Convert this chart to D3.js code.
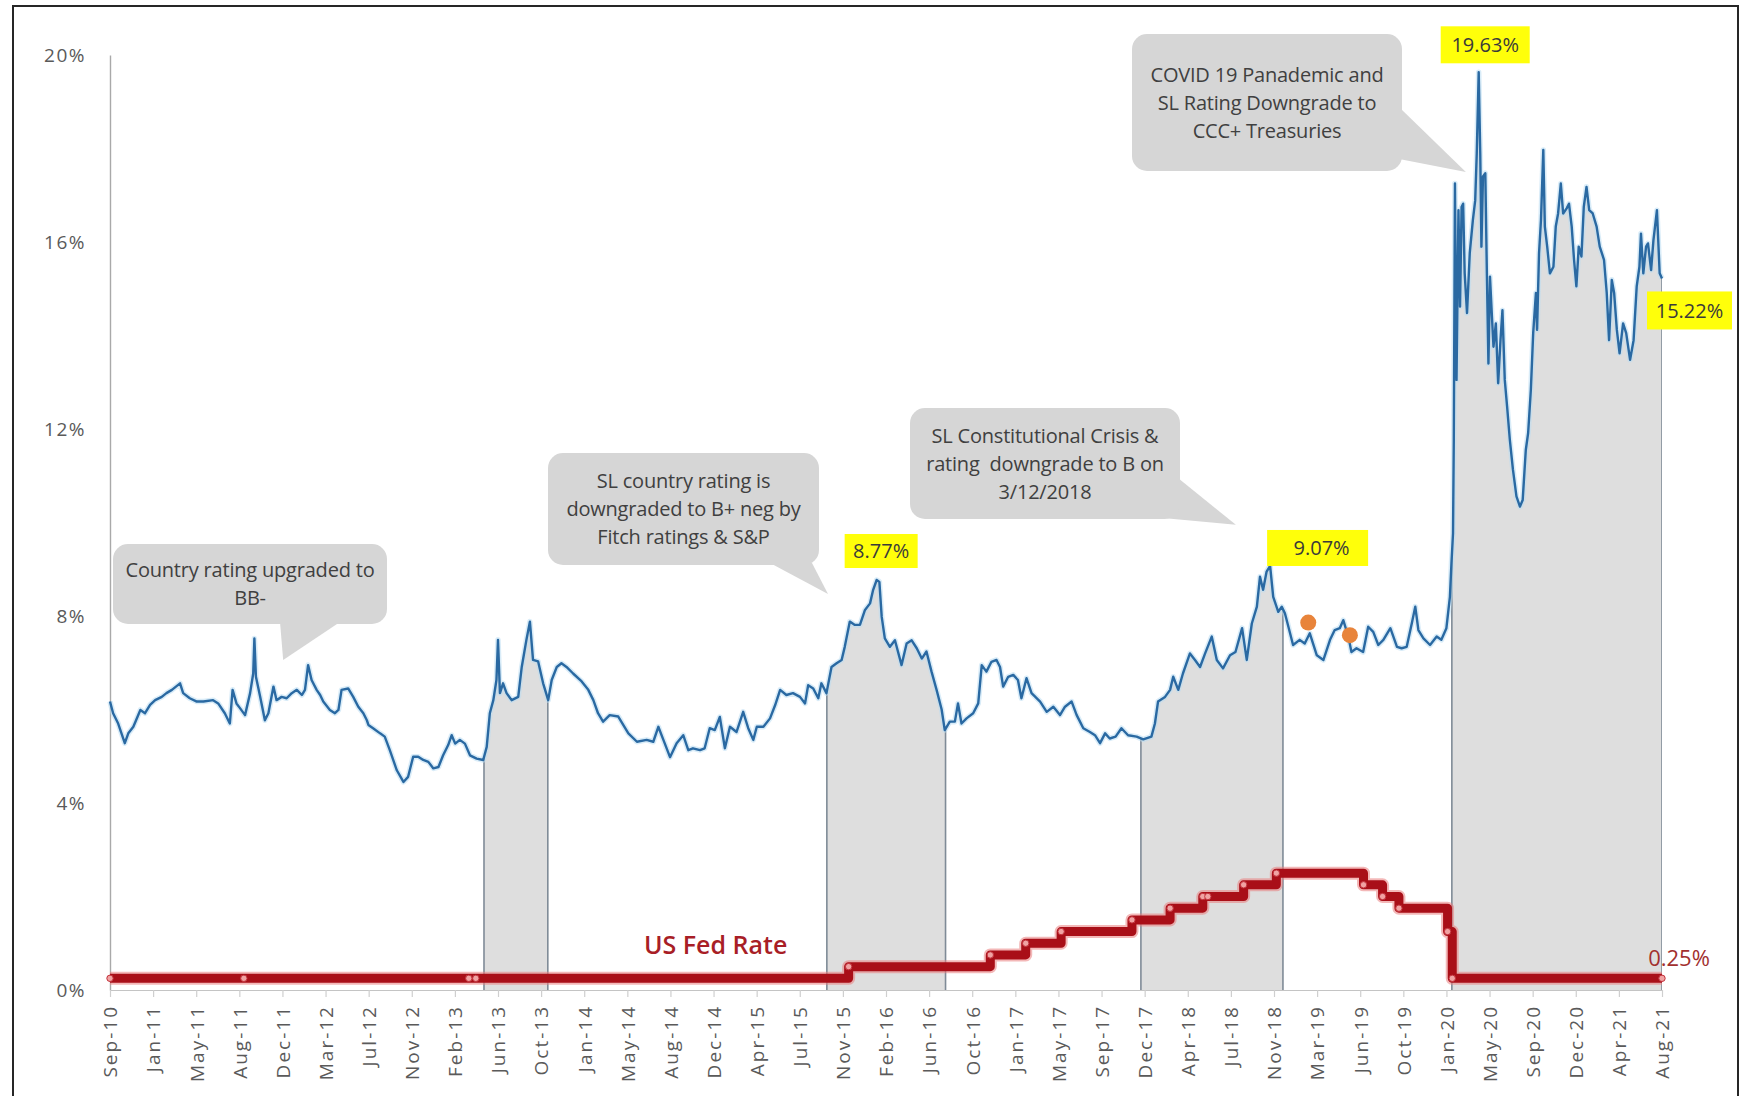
<!DOCTYPE html>
<html>
<head>
<meta charset="utf-8">
<script src="https://cdn.jsdelivr.net/npm/d3@7"></script>
<style>
  html, body { margin: 0; padding: 0; background: #ffffff; }
  svg { display: block; font-family: "Open Sans", "Noto Sans", "DejaVu Sans", sans-serif; }
</style>
</head>
<body>
<svg id="chart" width="1741" height="1096"></svg>
<script>
// Sri Lanka sovereign bond yield (%) read at irregular dates
const yieldSeries = [
  ["2010-10-05",6.17],["2010-10-13",5.92],["2010-10-26",5.70],["2010-11-12",5.28],["2010-11-21",5.49],["2010-12-04",5.63],["2010-12-22",5.99],
  ["2011-01-03",5.92],["2011-01-16",6.10],["2011-01-29",6.20],["2011-02-15",6.27],["2011-02-27",6.35],["2011-03-13",6.42],["2011-04-03",6.56],["2011-04-11",6.35],["2011-04-28",6.24],["2011-05-16",6.17],["2011-06-02",6.17],["2011-06-27",6.20],["2011-07-10",6.13],["2011-07-27",5.92],["2011-08-09",5.70],["2011-08-16",6.42],["2011-08-26",6.13],["2011-09-04",6.03],["2011-09-17",5.88],["2011-09-30",6.35],["2011-10-08",6.77],["2011-10-11",7.52],["2011-10-15",6.70],["2011-10-26",6.27],["2011-11-07",5.77],["2011-11-16",5.92],["2011-11-29",6.49],["2011-12-07",6.20],["2011-12-20",6.27],
  ["2012-01-02",6.24],["2012-01-15",6.35],["2012-01-28",6.42],["2012-02-10",6.31],["2012-02-18",6.42],["2012-02-26",6.95],["2012-03-06",6.63],["2012-03-19",6.42],["2012-03-28",6.31],["2012-04-05",6.17],["2012-04-22",5.99],["2012-05-05",5.92],["2012-05-14",5.99],["2012-05-22",6.42],["2012-06-08",6.45],["2012-06-21",6.27],["2012-07-04",6.06],["2012-07-17",5.92],["2012-07-26",5.77],["2012-07-30",5.67],["2012-08-11",5.60],["2012-08-29",5.49],["2012-09-10",5.42],["2012-09-23",5.13],["2012-10-11",4.70],["2012-10-28",4.45],["2012-11-09",4.56],["2012-11-22",4.99],["2012-12-05",4.99],["2012-12-18",4.92],["2012-12-31",4.88],
  ["2013-01-13",4.74],["2013-01-26",4.77],["2013-02-07",5.02],["2013-02-20",5.24],["2013-03-01",5.45],["2013-03-10",5.27],["2013-03-22",5.35],["2013-04-04",5.27],["2013-04-17",5.02],["2013-05-04",4.95],["2013-05-21",4.92],["2013-05-30",5.20],["2013-06-07",5.92],["2013-06-16",6.20],["2013-06-24",6.63],["2013-06-28",7.49],["2013-07-03",6.35],["2013-07-11",6.56],["2013-07-20",6.35],["2013-08-02",6.20],["2013-08-19",6.27],["2013-08-28",6.91],["2013-09-09",7.49],["2013-09-18",7.88],["2013-09-26",7.06],["2013-10-09",7.03],["2013-10-22",6.56],["2013-11-04",6.20],["2013-11-13",6.63],["2013-11-26",6.91],["2013-12-08",6.99],["2013-12-21",6.91],
  ["2014-01-07",6.77],["2014-01-29",6.60],["2014-02-15",6.42],["2014-02-28",6.20],["2014-03-12",5.92],["2014-03-25",5.74],["2014-04-11",5.88],["2014-05-03",5.85],["2014-05-29",5.49],["2014-06-20",5.31],["2014-07-15",5.35],["2014-08-01",5.31],["2014-08-14",5.63],["2014-08-27",5.35],["2014-09-13",4.98],["2014-09-30",5.28],["2014-10-17",5.45],["2014-10-30",5.13],["2014-11-11",5.17],["2014-11-29",5.13],["2014-12-11",5.17],["2014-12-24",5.60],
  ["2015-01-06",5.56],["2015-01-19",5.84],["2015-02-01",5.17],["2015-02-14",5.63],["2015-03-03",5.52],["2015-03-20",5.95],["2015-04-02",5.60],["2015-04-15",5.35],["2015-04-24",5.63],["2015-05-11",5.63],["2015-05-28",5.81],["2015-06-10",6.09],["2015-06-23",6.42],["2015-07-09",6.31],["2015-07-26",6.35],["2015-08-13",6.27],["2015-08-26",6.13],["2015-09-03",6.52],["2015-09-16",6.45],["2015-09-29",6.24],["2015-10-07",6.56],["2015-10-20",6.35],["2015-11-02",6.91],["2015-11-15",6.99],["2015-11-28",7.06],["2015-12-06",7.34],["2015-12-19",7.88],
  ["2016-01-01",7.81],["2016-01-14",7.81],["2016-01-27",8.13],["2016-02-09",8.27],["2016-02-17",8.56],["2016-02-26",8.77],["2016-03-04",8.73],["2016-03-10",7.98],["2016-03-18",7.52],["2016-03-31",7.34],["2016-04-13",7.48],["2016-04-30",6.95],["2016-05-13",7.41],["2016-05-26",7.48],["2016-06-08",7.31],["2016-06-21",7.09],["2016-07-03",7.24],["2016-07-16",6.81],["2016-07-29",6.42],["2016-08-11",6.00],["2016-08-19",5.56],["2016-09-01",5.74],["2016-09-14",5.74],["2016-09-22",6.13],["2016-10-01",5.70],["2016-10-14",5.81],["2016-10-31",5.92],["2016-11-13",6.13],["2016-11-22",6.95],["2016-12-04",6.81],["2016-12-17",7.02],["2016-12-30",7.06],
  ["2017-01-08",6.91],["2017-01-16",6.49],["2017-01-29",6.70],["2017-02-11",6.74],["2017-02-23",6.63],["2017-03-04",6.24],["2017-03-17",6.67],["2017-03-30",6.35],["2017-04-21",6.17],["2017-05-08",5.95],["2017-05-25",6.06],["2017-06-11",5.88],["2017-06-24",6.06],["2017-07-11",6.17],["2017-07-24",5.88],["2017-08-10",5.60],["2017-08-27",5.52],["2017-09-09",5.45],["2017-09-22",5.28],["2017-10-05",5.49],["2017-10-17",5.38],["2017-11-01",5.42],["2017-11-16",5.60],["2017-12-03",5.45],["2017-12-25",5.42],
  ["2018-01-11",5.36],["2018-02-01",5.42],["2018-02-10",5.70],["2018-02-18",6.17],["2018-03-08",6.27],["2018-03-21",6.42],["2018-03-29",6.70],["2018-04-11",6.42],["2018-04-23",6.77],["2018-05-11",7.20],["2018-05-24",7.06],["2018-06-06",6.91],["2018-06-19",7.20],["2018-07-06",7.56],["2018-07-19",7.06],["2018-08-04",6.88],["2018-08-22",7.16],["2018-09-05",7.23],["2018-09-22",7.74],["2018-10-04",7.06],["2018-10-17",7.84],["2018-10-30",8.20],["2018-11-07",8.84],["2018-11-15",8.56],["2018-11-24",8.95],["2018-12-03",9.07],["2018-12-11",8.41],["2018-12-24",8.09],
  ["2019-01-02",8.20],["2019-01-10",8.06],["2019-01-19",7.77],["2019-01-31",7.38],["2019-02-17",7.49],["2019-03-02",7.41],["2019-03-15",7.63],["2019-04-02",7.16],["2019-04-19",7.06],["2019-05-06",7.49],["2019-05-18",7.70],["2019-05-31",7.74],["2019-06-09",7.91],["2019-06-22",7.56],["2019-06-30",7.23],["2019-07-13",7.31],["2019-07-30",7.23],["2019-08-12",7.77],["2019-08-25",7.66],["2019-09-07",7.38],["2019-09-20",7.49],["2019-10-08",7.74],["2019-10-25",7.34],["2019-11-06",7.31],["2019-11-19",7.34],["2019-12-02",7.84],["2019-12-11",8.20],["2019-12-19",7.70],
  ["2020-01-01",7.52],["2020-01-18",7.38],["2020-02-04",7.56],["2020-02-16",7.49],["2020-02-29",7.74],["2020-03-09",8.41],["2020-03-13",9.13],["2020-03-17",9.77],["2020-03-19",11.77],["2020-03-22",17.25],["2020-03-26",13.05],["2020-03-31",16.68],["2020-04-04",14.62],["2020-04-08",16.75],["2020-04-12",16.82],["2020-04-16",15.33],["2020-04-22",14.48],["2020-04-29",15.76],["2020-05-07",16.47],["2020-05-13",16.89],["2020-05-17",17.90],["2020-05-22",19.63],["2020-05-26",17.90],["2020-05-29",15.90],["2020-06-02",17.40],["2020-06-08",17.47],["2020-06-12",15.33],["2020-06-16",13.40],["2020-06-20",15.26],["2020-06-25",14.41],["2020-06-29",13.76],["2020-07-05",14.26],["2020-07-11",12.98],["2020-07-17",13.90],["2020-07-22",14.54],["2020-07-28",13.05],["2020-08-03",12.48],["2020-08-10",11.77],["2020-08-18",11.13],["2020-08-27",10.56],["2020-09-05",10.34],["2020-09-12",10.48],["2020-09-20",11.55],["2020-09-26",11.91],["2020-10-03",12.84],["2020-10-09",14.05],["2020-10-16",14.91],["2020-10-19",14.12],["2020-10-24",15.76],["2020-10-29",16.47],["2020-11-04",17.97],["2020-11-08",16.33],["2020-11-14",15.90],["2020-11-21",15.33],["2020-11-30",15.47],["2020-12-06",16.33],["2020-12-12",16.61],["2020-12-19",17.25],["2020-12-25",16.61],
  ["2021-01-03",16.72],["2021-01-09",16.82],["2021-01-16",16.33],["2021-01-22",15.62],["2021-01-28",15.05],["2021-02-03",15.90],["2021-02-10",15.69],["2021-02-16",16.75],["2021-02-23",17.18],["2021-03-02",16.68],["2021-03-11",16.61],["2021-03-21",16.33],["2021-03-29",15.90],["2021-04-09",15.62],["2021-04-16",14.91],["2021-04-22",13.90],["2021-04-29",15.19],["2021-05-05",14.91],["2021-05-12",14.12],["2021-05-19",13.62],["2021-05-28",14.26],["2021-06-05",14.05],["2021-06-15",13.48],["2021-06-24",13.90],["2021-07-02",15.05],["2021-07-09",15.47],["2021-07-13",16.18],["2021-07-19",15.33],["2021-07-26",15.90],["2021-07-31",15.97],["2021-08-08",15.40],["2021-08-14",16.04],["2021-08-23",16.68],["2021-08-30",15.33],["2021-09-05",15.22]
];

// US Fed funds target (upper bound, %), one row per recorded point
const fedRate = [
  ["2010-10-05",0.25],["2011-09-14",0.25],["2013-04-14",0.25],["2013-05-02",0.25],
  ["2015-12-16",0.50],["2016-12-14",0.75],["2017-03-15",1.00],["2017-06-14",1.25],["2017-12-13",1.50],
  ["2018-03-21",1.75],["2018-06-13",2.00],["2018-06-26",2.00],["2018-09-26",2.25],["2018-12-19",2.50],
  ["2019-07-31",2.25],["2019-09-18",2.00],["2019-10-30",1.75],["2020-03-03",1.25],["2020-03-15",0.25],
  ["2021-09-05",0.25]
];

// Periods highlighted under the yield curve
const shadedPeriods = [
  ["2013-05-23","2013-11-03"],
  ["2015-10-21","2016-08-21"],
  ["2018-01-05","2019-01-05"],
  ["2020-03-14","2021-09-05"]
];

// Highlighted yield readings
const eventDots = [["2019-03-11",7.86],["2019-06-26",7.59]];

// Yield readings labelled with their value
const valueLabelDates = ["2016-02-26","2018-12-03","2020-05-22","2021-09-05"];

const yTicks = [0, 4, 8, 12, 16, 20];
const tickLabels = ["Sep-10","Jan-11","May-11","Aug-11","Dec-11","Mar-12","Jul-12","Nov-12","Feb-13","Jun-13","Oct-13","Jan-14","May-14","Aug-14","Dec-14","Apr-15","Jul-15","Nov-15","Feb-16","Jun-16","Oct-16","Jan-17","May-17","Sep-17","Dec-17","Apr-18","Jul-18","Nov-18","Mar-19","Jun-19","Oct-19","Jan-20","May-20","Sep-20","Dec-20","Apr-21","Aug-21"];

// Speech-bubble notes: box (x, y, w, h), pointer base points, and the point they refer to
const callouts = [
  { lines: ["Country rating upgraded to", "BB-"], box: [113, 544, 274, 80], base: [[280, 622], [340, 622]], tip: ["2011-12-24", 7.06] },
  { lines: ["SL country rating is", "downgraded to B+ neg by", "Fitch ratings & S&P"], box: [548, 453, 271, 112], base: [[770, 563], [812, 563]], tip: ["2015-10-24", 8.47] },
  { lines: ["SL Constitutional Crisis &", "rating  downgrade to B on", "3/12/2018"], box: [910, 408, 270, 111], base: [[1178, 478], [1152, 517]], tip: ["2018-09-06", 9.95] },
  { lines: ["COVID 19 Panademic and", "SL Rating Downgrade to", "CCC+ Treasuries"], box: [1132, 34, 270, 137], base: [[1400, 108], [1394, 158]], tip: ["2020-04-19", 17.5] }
];

const parse = d3.timeParse("%Y-%m-%d");
const yieldData = yieldSeries.map(([d, v]) => ({ date: parse(d), value: v }));
const fedData = fedRate.map(([d, v]) => ({ date: parse(d), value: v }));

const x = d3.scaleTime()
  .domain([yieldData[0].date, yieldData[yieldData.length - 1].date])
  .range([110, 1662]);
const y = d3.scaleLinear().domain([0, 20]).range([990, 55]);
const xLabelScale = d3.scalePoint().domain(tickLabels).range(x.range());

const svg = d3.select("#chart");
const defs = svg.append("defs");

// outer frame of the chart object
svg.append("path")
  .attr("d", "M13,1100 V6 H1738 V1100")
  .attr("fill", "none")
  .attr("stroke", "#262626")
  .attr("stroke-width", 2);

const area = d3.area()
  .x(d => x(d.date))
  .y0(y(0))
  .y1(d => y(d.value));

// region under the yield curve, used to trim the period edge lines
defs.append("clipPath").attr("id", "under-curve")
  .append("path").attr("d", area(yieldData));

// grey shading under the curve for each highlighted period
shadedPeriods.forEach(([s, e], i) => {
  const x0 = x(parse(s)), x1 = x(parse(e));
  defs.append("clipPath").attr("id", "period-" + i)
    .append("rect").attr("x", x0).attr("y", 0).attr("width", x1 - x0).attr("height", y(0));
  svg.append("path")
    .attr("d", area(yieldData))
    .attr("fill", "#dedede")
    .attr("clip-path", `url(#period-${i})`);
});

const edges = svg.append("g").attr("clip-path", "url(#under-curve)");
shadedPeriods.forEach(([s, e]) => {
  [s, e].forEach(d => {
    edges.append("line")
      .attr("x1", x(parse(d))).attr("x2", x(parse(d)))
      .attr("y1", y(0)).attr("y2", y(20))
      .attr("stroke", "#7f8b97").attr("stroke-width", 1.6);
  });
});

// value axis
const yAxis = svg.append("g")
  .attr("transform", `translate(${x.range()[0]},0)`)
  .call(d3.axisLeft(y).tickValues(yTicks).tickSize(0).tickSizeOuter(0).tickPadding(24).tickFormat(d => d + "%"));
yAxis.select(".domain").attr("stroke", "#a9a9a9").attr("stroke-width", 1.4);
yAxis.selectAll("text")
  .attr("font-family", "'Open Sans', sans-serif")
  .attr("font-size", 19)
  .attr("letter-spacing", 1.5)
  .attr("fill", "#5a5a5a");

// date axis
const xAxis = svg.append("g")
  .attr("transform", `translate(0,${y(0)})`)
  .call(d3.axisBottom(xLabelScale).tickSize(7).tickSizeOuter(0));
xAxis.select(".domain").attr("stroke", "#c4c4c4").attr("stroke-width", 1.2);
xAxis.selectAll(".tick line").attr("stroke", "#cfcfcf").attr("stroke-width", 1.2);
xAxis.selectAll("text")
  .attr("font-family", "'Open Sans', sans-serif")
  .attr("font-size", 19)
  .attr("letter-spacing", 2)
  .attr("fill", "#5a5a5a")
  .attr("transform", "rotate(-90)")
  .attr("text-anchor", "end")
  .attr("x", -15)
  .attr("y", 0)
  .attr("dy", "0.36em");

// yield line with a soft halo
const line = d3.line().x(d => x(d.date)).y(d => y(d.value));
svg.append("path")
  .attr("d", line(yieldData))
  .attr("fill", "none")
  .attr("stroke", "#b9dcf3")
  .attr("stroke-width", 5.5)
  .attr("stroke-opacity", 0.55)
  .attr("stroke-linejoin", "round");
svg.append("path")
  .attr("d", line(yieldData))
  .attr("fill", "none")
  .attr("stroke", "#2a69a2")
  .attr("stroke-width", 2.4)
  .attr("stroke-linejoin", "round");

// highlighted yield readings
svg.selectAll("circle.event")
  .data(eventDots)
  .join("circle")
  .attr("class", "event")
  .attr("cx", d => x(parse(d[0])))
  .attr("cy", d => y(d[1]))
  .attr("r", 8)
  .attr("fill", "#e8843b");

// US Fed rate as a step line
const stepLine = d3.line().curve(d3.curveStepAfter).x(d => x(d.date)).y(d => y(d.value));
svg.append("path")
  .attr("d", stepLine(fedData))
  .attr("fill", "none")
  .attr("stroke", "#ea7d7d")
  .attr("stroke-width", 13)
  .attr("stroke-opacity", 0.55)
  .attr("stroke-linejoin", "round");
svg.append("path")
  .attr("d", stepLine(fedData))
  .attr("fill", "none")
  .attr("stroke", "#a90f18")
  .attr("stroke-width", 9)
  .attr("stroke-linejoin", "round");
svg.selectAll("circle.fed")
  .data(fedData)
  .join("circle")
  .attr("class", "fed")
  .attr("cx", d => x(d.date))
  .attr("cy", d => y(d.value))
  .attr("r", 3.2)
  .attr("fill", "#f0a3a3")
  .attr("stroke", "#c2303a")
  .attr("stroke-width", 1);

// series names
svg.append("text")
  .attr("x", 644).attr("y", 954)
  .attr("font-family", "'Open Sans', sans-serif")
  .attr("font-size", 25)
  .attr("font-weight", 600)
  .attr("fill", "#a81e26")
  .text("US Fed Rate");

const lastFed = fedData[fedData.length - 1];
svg.append("text")
  .attr("x", x(lastFed.date) + 17).attr("y", y(lastFed.value) - 12)
  .attr("text-anchor", "middle")
  .attr("font-family", "'Open Sans', sans-serif")
  .attr("font-size", 22)
  .attr("fill", "#a2302f")
  .text(lastFed.value.toFixed(2) + "%");

// speech bubbles
callouts.forEach(c => {
  const [bx, by, bw, bh] = c.box;
  const tx = x(parse(c.tip[0])), ty = y(c.tip[1]);
  const g = svg.append("g");
  g.append("path")
    .attr("d", `M${c.base[0][0]},${c.base[0][1]} L${tx},${ty} L${c.base[1][0]},${c.base[1][1]} Z`)
    .attr("fill", "#d6d6d6");
  g.append("rect")
    .attr("x", bx).attr("y", by).attr("width", bw).attr("height", bh)
    .attr("rx", 15)
    .attr("fill", "#d6d6d6");
  const lh = 28;
  const cy = by + bh / 2 - (c.lines.length - 1) * lh / 2;
  c.lines.forEach((t, i) => {
    g.append("text")
      .attr("x", bx + bw / 2).attr("y", cy + i * lh)
      .attr("dy", "0.35em")
      .attr("text-anchor", "middle")
      .attr("font-family", "'Open Sans', sans-serif")
      .attr("font-size", 20)
      .attr("letter-spacing", -0.2)
      .attr("fill", "#404040")
      .attr("xml:space", "preserve")
      .style("white-space", "pre")
      .text(t);
  });
});

// yellow value tags: box offset and size relative to the labelled reading
const tagLayout = [
  { dx: -32, dy: -46, w: 73, h: 34 },
  { dx: -3, dy: -36, w: 101, h: 36 },
  { dx: -38, dy: -46, w: 89, h: 37 },
  { dx: -15, dy: 13, w: 85, h: 38 }
];
valueLabelDates.forEach((ds, i) => {
  const pt = yieldData.find(d => +d.date === +parse(ds));
  const px = x(pt.date), py = y(pt.value);
  const L = tagLayout[i];
  svg.append("rect")
    .attr("x", px + L.dx).attr("y", py + L.dy)
    .attr("width", L.w).attr("height", L.h)
    .attr("fill", "#ffff0a");
  svg.append("text")
    .attr("x", px + L.dx + L.w / 2 + (i === 1 ? 4 : 0))
    .attr("y", py + L.dy + L.h / 2)
    .attr("dy", "0.36em")
    .attr("text-anchor", "middle")
    .attr("font-family", "'Open Sans', sans-serif")
    .attr("font-size", 20)
    .attr("fill", "#3a3a3a")
    .text(pt.value.toFixed(2) + "%");
});
</script>
</body>
</html>
